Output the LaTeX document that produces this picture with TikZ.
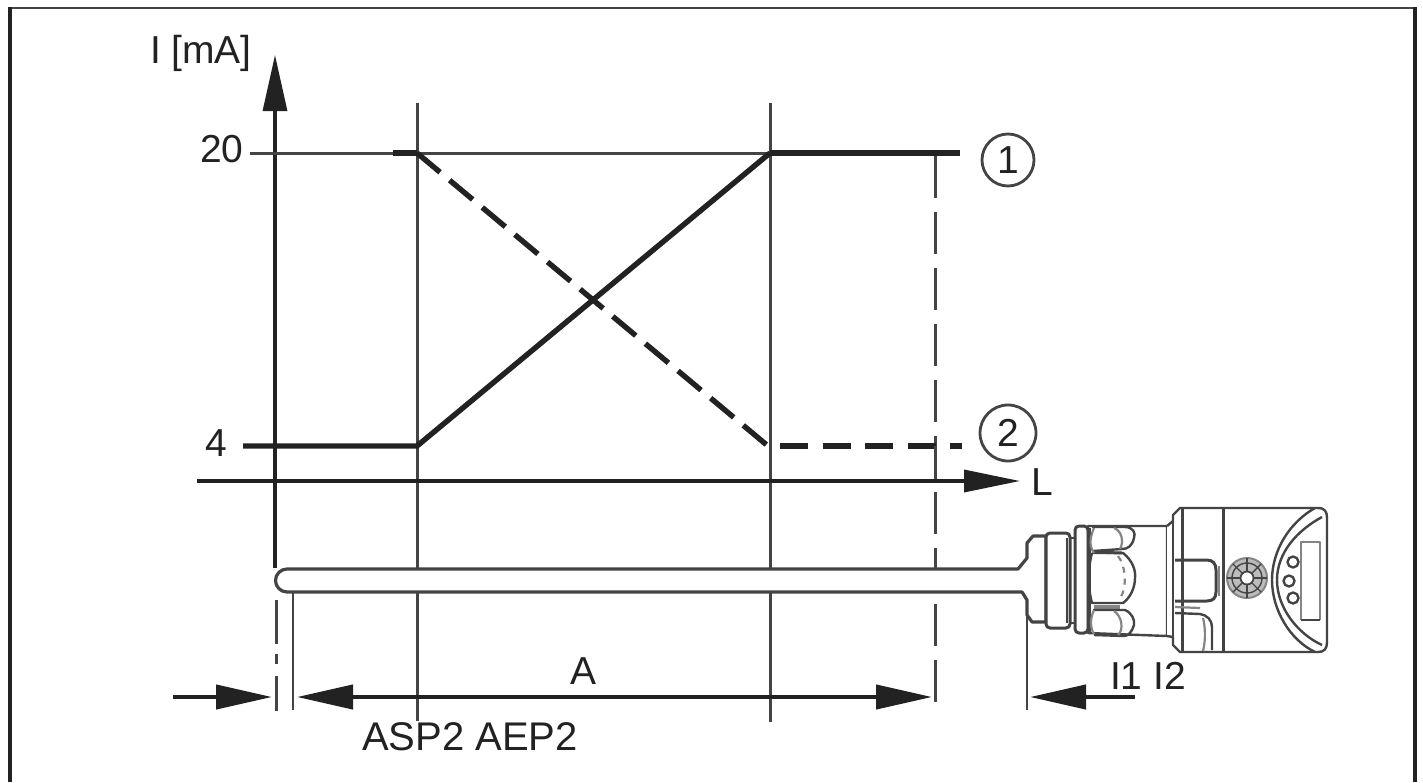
\documentclass[tikz,border=0pt]{standalone}
\usepackage{fontspec}
\setmainfont{Liberation Sans}
\usetikzlibrary{arrows.meta}
\definecolor{ink}{HTML}{222222}
\definecolor{soft}{HTML}{444444}
\definecolor{faint}{HTML}{858585}
\tikzset{
  x=0.5pt,y=-0.5pt,
  frameline/.style={draw=ink,line width=1.9pt},
  thinline/.style={draw=soft,line width=1.5pt},
  thickline/.style={draw=ink,line width=2.7pt},
  dashline/.style={draw=ink,line width=2.7pt,dash pattern=on 15pt off 6.25pt},
  guide/.style={draw=soft,line width=1.5pt,dash pattern=on 21pt off 7pt},
  axisline/.style={draw=ink,line width=1.6pt},
  dimline/.style={draw=ink,line width=2.1pt},
  headup/.style={-{Triangle[length=28pt,width=12pt]}},
  headdim/.style={-{Triangle[length=28pt,width=12pt]}},
  lbl/.style={anchor=base west,inner sep=0pt,outer sep=0pt,text=ink,font=\fontsize{19.5}{19.5}\selectfont},
  callout/.style={circle,draw=soft,line width=1.4pt,inner sep=0pt,text=ink,font=\fontsize{19.5}{19.5}\selectfont},
  dev/.style={draw=soft,line width=1.2pt,line join=round},
  devthick/.style={draw=ink!85,line width=1.5pt,line join=round},
  devsoft/.style={draw=faint,line width=1.1pt,line join=round},
}
\begin{document}
\begin{tikzpicture}
\useasboundingbox (0,0) rectangle (1423,782);
\fill[white] (0,0) rectangle (1423,782);
% frame
\draw[frameline,draw=soft,line width=1.3pt] (10,8) -- (1415,8);
\draw[frameline] (10,7) -- (10,782);
\draw[frameline] (1415,7) -- (1415,782);

% named points
\coordinate (yfoot) at (275,568);
\coordinate (ytip) at (275,55);
\coordinate (xstart) at (197,481);
\coordinate (xtip) at (1020,481);
\coordinate (aT) at (417,103);
\coordinate (aB) at (417,721);
\coordinate (bT) at (770,103);
\coordinate (bB) at (770,722);
\coordinate (cT) at (935,156);
\coordinate (cB) at (935,710);
\coordinate (dT) at (276,600);
\coordinate (dB) at (276,711);
\coordinate (eT) at (293,590);
\coordinate (eB) at (293,710);
\coordinate (fT) at (1027,610);
\coordinate (fB) at (1027,710);
\coordinate (p20a) at (250,153);
\coordinate (p20d) at (393,153);
\coordinate (p20) at (417,153);
\coordinate (q20) at (770,153);
\coordinate (r20) at (960,153);
\coordinate (p4a) at (243,446);
\coordinate (p4) at (417,446);
\coordinate (q4) at (768,446);
\coordinate (q4d) at (780,446);
\coordinate (r4) at (962,446);
\coordinate (leftS) at (173,697);
\coordinate (leftT) at (272,697);
\coordinate (midL) at (297,697);
\coordinate (midR) at (932,697);
\coordinate (rightS) at (1135,697);
\coordinate (rightT) at (1030,697);

% guides
\draw[axisline,headup] (yfoot) -- (ytip);
\draw[thinline] (aT) -- (aB);
\draw[thinline] (bT) -- (bB);
\draw[guide] (cT) -- (cB);
\draw[draw=soft,line width=1.5pt,dash pattern=on 22pt off 5pt on 5pt off 6pt] (dT) -- (dB);
\draw[thinline,line width=1.3pt] (eT) -- (eB);
\draw[thinline,line width=1.3pt] (fT) -- (fB);

% levels
\draw[thinline,line width=1.5pt] (p20a) -- (q20);
\draw[thickline] (p20d) -- (p20);
\draw[thickline] (q20) -- (r20);
\draw[thickline] (p4a) -- (p4) -- (q20);
\draw[dashline] (p20) -- (q4);
\draw[draw=ink,line width=2.7pt,dash pattern=on 14pt off 7.25pt] (q4d) -- (r4);
\draw[draw=soft,line width=1.5pt] (935,446) -- (935,481);
\draw[axisline,line width=1.7pt,-{Triangle[length=28pt,width=11pt]}] (xstart) -- (xtip);

% dimension arrows
\draw[dimline,headdim] (leftS) -- (leftT);
\draw[dimline,{Triangle[length=28pt,width=12pt]}-{Triangle[length=28pt,width=12pt]}] (midL) -- (midR);
\draw[dimline,headdim] (rightS) -- (rightT);

% probe
\draw[dev,line width=1.6pt,fill=white] (1010,569) -- (287,569) arc[start angle=270,end angle=90,radius=11.5] -- (1012,592) -- (1022,592) -- (1027,600) -- (1027,615) -- (1032,622) -- (1046,622) -- (1046,536) -- (1033,536) -- (1027,543) -- (1027,558) -- (1018,569) -- cycle;
\fill[white] (1003,571) rectangle (1027,590);

% connector
\draw[devthick,fill=white,rounded corners=2pt] (1046,533) -- (1070,533) -- (1070,628) -- (1046,628) -- cycle;
\draw[dev] (1067,538) -- (1067,623);
\draw[dev] (1071,538) -- (1075,538);
\draw[dev] (1071,623) -- (1075,623);
\draw[devthick,fill=white,rounded corners=2pt] (1075,526) rectangle (1088,633);
% body
\draw[dev,fill=white] (1088,526) -- (1167,526) -- (1167,636) -- (1088,633) -- cycle;
\draw[devthick] (1089,528) -- (1089,632);
% scallops
\draw[dev] (1092,527) -- (1125,527) .. controls (1133,527) and (1136,533) .. (1134,538) .. controls (1132,546) and (1128,549) .. (1122,549) -- (1093,551);
\draw[devsoft] (1114,528) .. controls (1122,531) and (1124,542) .. (1120,549);
\draw[devthick] (1092,552) -- (1122,553);
\draw[dev] (1092,553) -- (1123,553) .. controls (1132,560) and (1136,570) .. (1135,578) .. controls (1135,588) and (1130,598) .. (1123,603) -- (1092,603) .. controls (1088,590) and (1088,566) .. (1092,553);
\draw[devsoft,dashed] (1118,556) .. controls (1126,566) and (1128,590) .. (1118,601);
\draw[devthick,draw=faint,line width=1.8pt] (1094,607) -- (1120,607);
\draw[dev] (1093,610) -- (1125,610) .. controls (1132,613) and (1135,620) .. (1134,625) .. controls (1132,632) and (1128,636) .. (1124,636) -- (1094,635);
\draw[devsoft] (1114,611) .. controls (1122,616) and (1124,630) .. (1118,635);
\draw[devsoft] (1094,553) .. controls (1088,545) and (1091,535) .. (1094,528);
\draw[devsoft] (1094,610) .. controls (1090,618) and (1090,628) .. (1094,634);

% head
\draw[dev,fill=white] (1167,526) -- (1173,521) -- (1173,515) -- (1180,508) -- (1318,508) .. controls (1325,508) and (1327,512) .. (1327,518) -- (1327,642) .. controls (1327,649) and (1324,652) .. (1318,652) -- (1180,652) -- (1173,645) -- (1173,637) -- (1167,636);
\draw[dev] (1173,521) -- (1173,637);
\draw[devthick] (1182,508) -- (1182,652);
\draw[devthick] (1223,508) -- (1223,652);
% sockets
\draw[devthick] (1175,560) -- (1207,560) .. controls (1213,560) and (1216,564) .. (1216,570) -- (1216,592) .. controls (1216,598) and (1213,601) .. (1207,601) -- (1175,601);
\draw[devsoft] (1219,566) -- (1219,596);
\draw[dev] (1175,613) -- (1200,614) .. controls (1207,615) and (1212,620) .. (1212,627) -- (1212,650);
\draw[devsoft] (1203,618) .. controls (1205,625) and (1206,640) .. (1203,651);
\draw[devsoft] (1175,607) -- (1200,608);
% screw
\node[circle,fill=faint!55,draw=faint,line width=1pt,minimum size=20pt,inner sep=0pt] (screw) at (1247,578) {};
\foreach \a in {0,45,...,315}{\draw[devsoft,line width=0.7pt,draw=soft] (1247,578) ++(\a:6) -- ++(\a:14);}
\draw[devsoft,draw=soft,line width=0.7pt] (1247,578) circle[radius=15];
\draw[fill=white,draw=soft,line width=0.9pt] (1247,578) circle[radius=6.5];
% arcs
\draw[dev] (1315,508) .. controls (1290,522) and (1272,550) .. (1272,580) .. controls (1272,610) and (1290,640) .. (1315,652);
\draw[dev] (1322,517) .. controls (1298,530) and (1277,552) .. (1277,580) .. controls (1277,608) and (1298,634) .. (1322,645);
% display
\draw[devsoft] (1301,620) -- (1301,542) -- (1320,542) -- (1320,620);
\draw[dev] (1301,620) -- (1320,620);
% LEDs
\draw[dev] (1293,562) circle[radius=5.5];
\draw[dev] (1289,581) circle[radius=5.5];
\draw[dev] (1293,598) circle[radius=5.5];

% labels
\node[lbl] (lI) at (150,63) {I [mA]};
\node[lbl] (l20) at (200,162) {20};
\node[lbl] (l4) at (205,456) {4};
\node[lbl] (lL) at (1031,495) {L};
\node[lbl] (lA) at (570,684) {A};
\node[lbl,font=\fontsize{20}{20}\selectfont] (lAS) at (362,750) {ASP2 AEP2};
\node[lbl] (lI12) at (1110,689) {I1 I2};
\node[callout,minimum size=26pt] (c1) at (1008,160) {1};
\node[callout,minimum size=28pt] (c2) at (1008,433) {2};
\end{tikzpicture}
\end{document}
